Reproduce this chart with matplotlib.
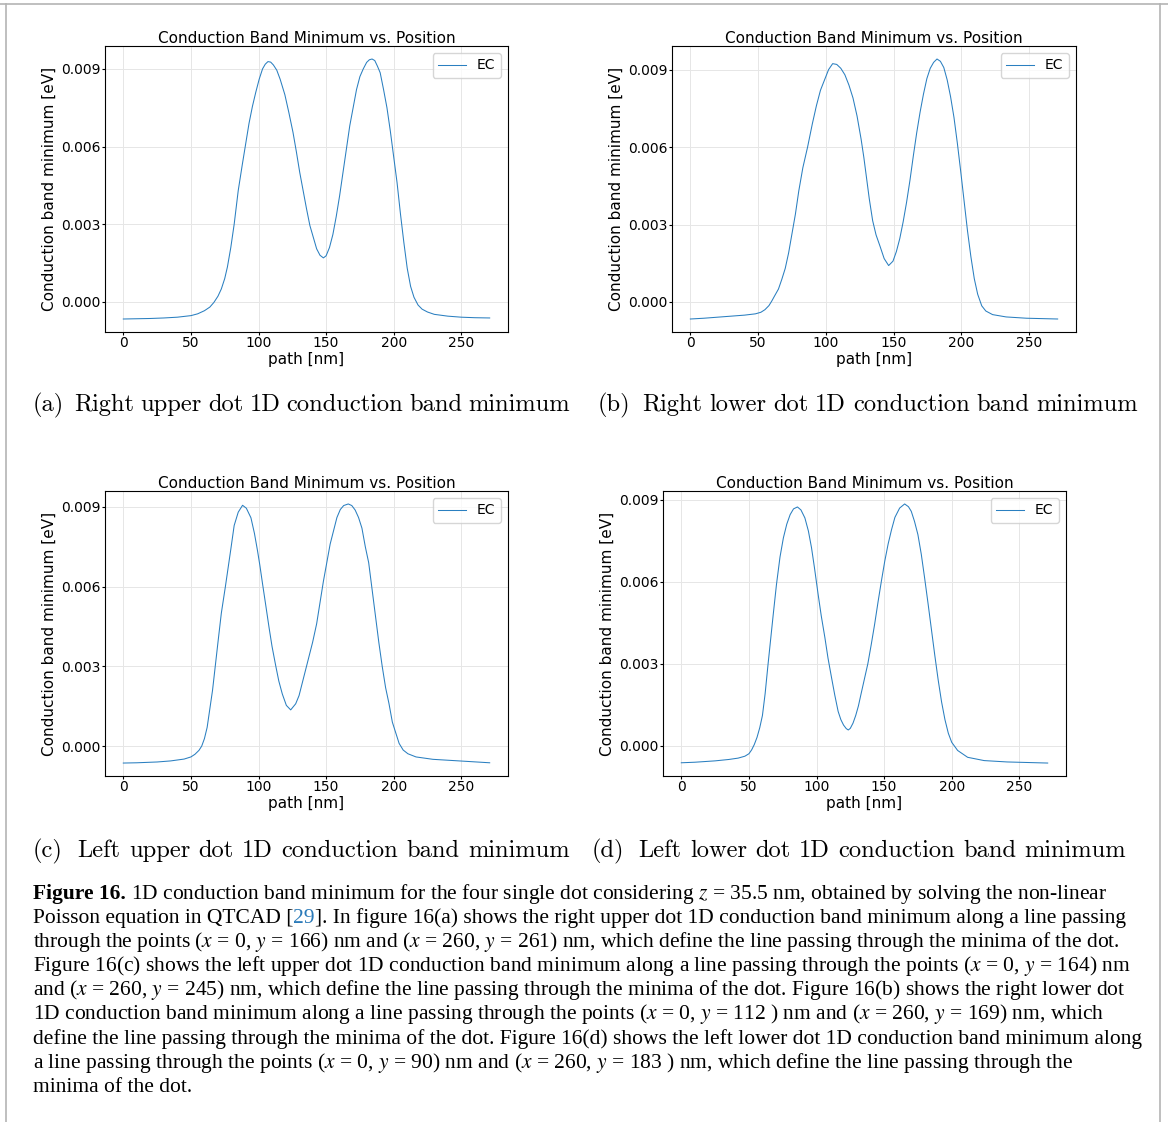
import matplotlib
matplotlib.use("Agg")
import matplotlib.pyplot as plt
from matplotlib.ticker import MultipleLocator, FormatStrFormatter
from matplotlib.lines import Line2D

# (a) right upper dot
pos_a = [0, 10, 20, 30, 40, 50, 55, 60, 64, 67, 70, 72.5, 75, 77, 79.5, 82, 85, 88, 90.5, 93,
         95.5, 98, 100.5, 103, 105, 107, 109, 111, 113.5, 116, 119.5, 122.5, 125.5, 128, 130.5,
         133, 135.5, 138, 140.5, 143, 145.5, 148, 150, 152.5, 155, 157.5, 160, 162.5, 165, 167.5,
         170, 172.5, 175, 177.5, 180, 182, 184, 186, 188, 190, 192.5, 195, 197.5, 200, 202.5,
         205, 207.5, 210, 212.5, 215, 218, 221, 225, 230, 240, 250, 260, 271]
ec_a = [-0.00066, -0.00065, -0.00064, -0.00062, -0.00059, -0.00053, -0.00046, -0.00034, -0.00020,
        -0.00002, 0.00022, 0.00050, 0.00090, 0.00135, 0.00210, 0.00300, 0.00430, 0.00530, 0.00610,
        0.00690, 0.00755, 0.00810, 0.00860, 0.00900, 0.00918, 0.00928, 0.00926, 0.00915, 0.00895,
        0.00860, 0.00800, 0.00730, 0.00655, 0.00580, 0.00500, 0.00430, 0.00360, 0.00295, 0.00250,
        0.00205, 0.00180, 0.00170, 0.00178, 0.00210, 0.00260, 0.00330, 0.00410, 0.00500, 0.00590,
        0.00680, 0.00750, 0.00820, 0.00870, 0.00900, 0.00925, 0.00935, 0.00938, 0.00932, 0.00910,
        0.00885, 0.00820, 0.00750, 0.00660, 0.00560, 0.00460, 0.00340, 0.00230, 0.00130, 0.00060,
        0.00018, -0.00012, -0.00028, -0.00039, -0.00048, -0.00055, -0.00059, -0.00061, -0.00062]

# (b) right lower dot
pos_b = [0, 10, 20, 30, 40, 48, 52, 55, 58, 60, 62, 65, 67.5, 70, 72.5, 75, 77.5, 80, 83, 86.5,
         90, 93, 96, 99, 102, 105, 108, 111, 114, 117, 120, 123, 126, 128, 130, 132, 134.5, 137,
         140, 143, 146.3, 149.5, 152, 154.5, 157, 159.5, 162, 164.5, 167, 169.5, 172, 174.5, 177,
         179.5, 182, 184.5, 187, 189.5, 192, 194.5, 197, 199.5, 202, 204.5, 207, 209.5, 212, 215,
         218, 223, 233, 248, 271]
ec_b = [-0.00066, -0.00063, -0.00059, -0.00055, -0.00051, -0.00046, -0.00040, -0.00030, -0.00014,
        0.00003, 0.00022, 0.00050, 0.00088, 0.00130, 0.00190, 0.00265, 0.00340, 0.00430, 0.00520,
        0.00600, 0.00690, 0.00760, 0.00820, 0.00860, 0.00900, 0.00923, 0.00920, 0.00905, 0.00880,
        0.00840, 0.00790, 0.00720, 0.00630, 0.00560, 0.00480, 0.00400, 0.00315, 0.00260, 0.00215,
        0.00168, 0.00141, 0.00158, 0.00195, 0.00245, 0.00310, 0.00385, 0.00470, 0.00565, 0.00655,
        0.00735, 0.00805, 0.00865, 0.00905, 0.00928, 0.00941, 0.00932, 0.00908, 0.00860, 0.00795,
        0.00715, 0.00615, 0.00505, 0.00390, 0.00275, 0.00175, 0.00090, 0.00030, -0.00015, -0.00035,
        -0.00049, -0.00058, -0.00063, -0.00066]

# (c) left upper dot
pos_c = [0, 10, 25, 35, 45, 50, 53, 56, 58, 60, 62, 64, 66, 68, 70, 72.5, 75.5, 77.5, 79.5, 82,
         85, 88.2, 91, 94.4, 97, 99.3, 101, 103, 105.5, 107.8, 110, 112.7, 115, 117.6, 120.6,
         123.8, 127.5, 130, 132.5, 135, 137.5, 140, 143, 145.5, 148, 150.5, 153, 155.5, 158,
         160.5, 163, 166.4, 169, 171.5, 174, 176.5, 179, 181.5, 184, 186.5, 189, 191.5, 194,
         196.5, 199, 201.5, 204, 207, 210.5, 216.5, 229, 248.5, 271]
ec_c = [-0.00064, -0.00063, -0.00060, -0.00056, -0.00049, -0.00041, -0.00031, -0.00016, 0.00000,
        0.00028, 0.00070, 0.00140, 0.00210, 0.00300, 0.00390, 0.00500, 0.00600, 0.00670, 0.00740,
        0.00830, 0.00880, 0.00906, 0.00895, 0.00859, 0.00800, 0.00734, 0.00680, 0.00610, 0.00525,
        0.00446, 0.00375, 0.00303, 0.00245, 0.00196, 0.00153, 0.00136, 0.00159, 0.00190, 0.00240,
        0.00290, 0.00340, 0.00390, 0.00460, 0.00540, 0.00620, 0.00690, 0.00760, 0.00810, 0.00860,
        0.00890, 0.00905, 0.00911, 0.00905, 0.00888, 0.00860, 0.00820, 0.00750, 0.00690, 0.00590,
        0.00490, 0.00390, 0.00300, 0.00220, 0.00160, 0.00090, 0.00050, 0.00010, -0.00015, -0.00029,
        -0.00041, -0.00050, -0.00056, -0.00063]

# (d) left lower dot
pos_d = [0, 10, 25, 35, 42, 47, 50, 52, 54, 56, 58, 60, 62, 64, 66, 68, 70.4, 73, 75.5, 78, 80.5,
         83, 85.9, 88.5, 91.4, 94, 96.3, 98.5, 101.2, 103.5, 106.2, 108.5, 111.1, 113.5, 116, 118,
         120, 122, 123.5, 125, 127, 129, 131, 133, 135.5, 138, 140.5, 143, 145.5, 148, 150.5, 153,
         155.5, 158, 161.5, 165.2, 168, 170.1, 172.5, 175, 177.5, 180, 182.5, 185, 187.5, 190,
         192.5, 195, 197.5, 200, 204.4, 211.8, 224, 241, 271]
ec_d = [-0.00063, -0.00061, -0.00056, -0.00051, -0.00046, -0.00039, -0.00030, -0.00016, 0.00004,
        0.00030, 0.00065, 0.00110, 0.00190, 0.00290, 0.00385, 0.00480, 0.00590, 0.00690, 0.00760,
        0.00810, 0.00845, 0.00866, 0.00873, 0.00862, 0.00833, 0.00785, 0.00724, 0.00650, 0.00553,
        0.00475, 0.00395, 0.00320, 0.00249, 0.00185, 0.00125, 0.00095, 0.00075, 0.00062, 0.00057,
        0.00063, 0.00082, 0.00110, 0.00145, 0.00190, 0.00245, 0.00300, 0.00370, 0.00444, 0.00525,
        0.00602, 0.00675, 0.00738, 0.00790, 0.00835, 0.00869, 0.00884, 0.00874, 0.00857, 0.00820,
        0.00772, 0.00700, 0.00612, 0.00520, 0.00425, 0.00330, 0.00240, 0.00160, 0.00095, 0.00045,
        0.00012, -0.00018, -0.00043, -0.00055, -0.00060, -0.00064]

subcaptions = ["(a) Right upper dot 1D conduction band minimum",
               "(b) Right lower dot 1D conduction band minimum",
               "(c) Left upper dot 1D conduction band minimum",
               "(d) Left lower dot 1D conduction band minimum"]

W, H = 1168, 1122
plt.rcParams['mathtext.fontset'] = 'stix'
fig = plt.figure(figsize=(W / 100, H / 100), dpi=100)
renderer = fig.canvas.get_renderer()


def box(x0, y0, x1, y1):
    # pixel corners -> figure fraction rect
    return [x0 / W, 1 - y1 / H, (x1 - x0) / W, (y1 - y0) / H]


def justified(text, x0, x1, y, **kw):
    # spread the words of a subcaption over [x0, x1], label gap a bit wider
    words = text.split()
    ts = [fig.text(0, 0, w, va='center', ha='left', **kw) for w in words]
    widths = [t.get_window_extent(renderer).width for t in ts]
    unit = (x1 - x0 - sum(widths)) / (len(words) - 2 + 1.7)
    x = x0
    for i, (t, w) in enumerate(zip(ts, widths)):
        t.set_position((x / W, 1 - y / H))
        x += w + (1.7 * unit if i == 0 else unit)


panels = [
    (pos_a, ec_a, box(105, 46, 508, 332), subcaptions[0], (33, 570, 405)),
    (pos_b, ec_b, box(672, 46, 1076, 332), subcaptions[1], (598, 1138, 405)),
    (pos_c, ec_c, box(105, 491, 508, 776), subcaptions[2], (33, 570, 851)),
    (pos_d, ec_d, box(663, 491, 1066, 776), subcaptions[3], (592, 1126, 851)),
]

for pos, ec, rect, sub, (sx0, sx1, sy) in panels:
    ax = fig.add_axes(rect)
    ax.plot(pos, ec, color='#2a7fc0', lw=0.75, label='EC')
    ax.set_title('Conduction Band Minimum vs. Position', fontsize=11, pad=1.5)
    ax.set_xlabel('path [nm]', fontsize=11, labelpad=1)
    ax.set_ylabel('Conduction band minimum [eV]', fontsize=11, labelpad=3)
    ax.yaxis.set_major_locator(MultipleLocator(0.003))
    ax.yaxis.set_major_formatter(FormatStrFormatter('%.3f'))
    ax.tick_params(labelsize=10, length=2.5, pad=0.6)
    ax.grid(True, color='#e6e6e6', lw=0.7)
    ax.legend(loc='upper right', fontsize=10)
    justified(sub, sx0, sx1, sy, family='cmr10', fontsize=17.6)

# figure caption, built piece by piece so bold and coloured parts line up
blue = '#2a7ab9'
caption = [
    [("Figure 16. ", {'fontweight': 'bold'}),
     ("1D conduction band minimum for the four single dot considering $z$ = 35.5 nm, obtained by solving the non-linear", {})],
    [("Poisson equation in QTCAD [", {}), ("29", {'color': blue}),
     ("]. In figure 16(a) shows the right upper dot 1D conduction band minimum along a line passing", {})],
    [("through the points ($x$ = 0, $y$ = 166) nm and ($x$ = 260, $y$ = 261) nm, which define the line passing through the minima of the dot.", {})],
    [("Figure 16(c) shows the left upper dot 1D conduction band minimum along a line passing through the points ($x$ = 0, $y$ = 164) nm", {})],
    [("and ($x$ = 260, $y$ = 245) nm, which define the line passing through the minima of the dot. Figure 16(b) shows the right lower dot", {})],
    [("1D conduction band minimum along a line passing through the points ($x$ = 0, $y$ = 112 ) nm and ($x$ = 260, $y$ = 169) nm, which", {})],
    [("define the line passing through the minima of the dot. Figure 16(d) shows the left lower dot 1D conduction band minimum along", {})],
    [("a line passing through the points ($x$ = 0, $y$ = 90) nm and ($x$ = 260, $y$ = 183 ) nm, which define the line passing through the", {})],
    [("minima of the dot.", {})],
]

for i, pieces in enumerate(caption):
    y = 899 + 24.1 * i
    x = 33
    for s, kw in pieces:
        t = fig.text(x / W, 1 - y / H, s, family='Liberation Serif', fontsize=15.5,
                     va='baseline', ha='left', **kw)
        x = t.get_window_extent(renderer).x1

# page frame
frame = dict(transform=fig.transFigure, color='#b4b4b4', lw=1.2)
fig.add_artist(Line2D([0, 1], [1 - 4 / H, 1 - 4 / H], **frame))
fig.add_artist(Line2D([6 / W, 6 / W], [0, 1 - 4 / H], **frame))
fig.add_artist(Line2D([1160 / W, 1160 / W], [0, 1 - 4 / H], **frame))

fig.savefig('out.png', dpi=100)
